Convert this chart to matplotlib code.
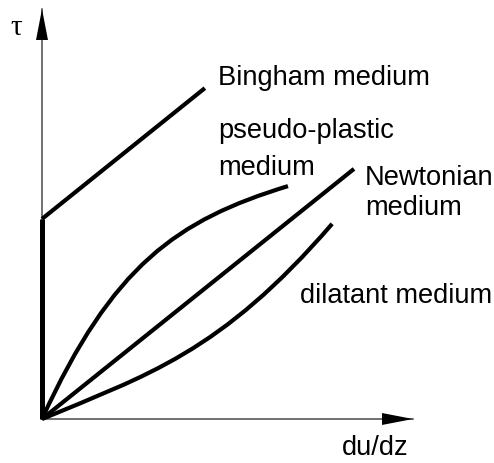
import matplotlib
matplotlib.use("Agg")
import matplotlib.pyplot as plt
from matplotlib.path import Path
from matplotlib.patches import PathPatch

# ---- data (arbitrary units: du/dz on x, tau on y) ----
bingham_x = [0.0, 0.0, 4.39]
bingham_y = [0.0, 4.88, 8.07]

newtonian_x = [0.0, 8.41]
newtonian_y = [0.0, 6.10]

# smooth curves given as cubic Bezier control points (start, c1, c2, end)
pseudo_x = [0.0, 1.90, 3.63, 6.63]
pseudo_y = [0.0, 3.75, 4.85, 5.68]

dilatant_x = [0.0, 2.80, 4.82, 7.82]
dilatant_y = [0.0, 1.06, 1.61, 4.76]

x_max, y_max = 10.0, 10.0

labels = {
    "bingham": "Bingham medium",
    "pseudo1": "pseudo-plastic",
    "pseudo2": "medium",
    "newton1": "Newtonian",
    "newton2": "medium",
    "dilatant": "dilatant medium",
    "xlabel": "du/dz",
    "ylabel": "τ",
}

W, H = 494, 464
fig = plt.figure(figsize=(W / 100, H / 100), dpi=100)
ax = fig.add_axes([42 / W, 44 / H, 371 / W, 410 / H])
ax.set_xlim(0, x_max)
ax.set_ylim(0, y_max)
ax.axis("off")

fs = 19.6
font = "Liberation Sans"

# axes lines with arrow heads
ax.plot([0, x_max], [0, 0], color="#4a4a4a", lw=1.1, clip_on=False, zorder=1)
ax.plot([0, 0], [0, y_max], color="#4a4a4a", lw=1.1, clip_on=False, zorder=1)
head = dict(width=0.01, headwidth=8.6, headlength=22.3, facecolor="black",
            edgecolor="none", lw=0, shrink=0)
ax.annotate("", xy=(x_max, 0), xytext=(x_max - 1.2, 0), arrowprops=head,
            annotation_clip=False)
ax.annotate("", xy=(0, y_max), xytext=(0, y_max - 1.2), arrowprops=head,
            annotation_clip=False)

lw = 3.0
kw = dict(color="black", lw=lw, clip_on=False, solid_capstyle="butt",
          solid_joinstyle="round", zorder=3)
ax.plot(bingham_x[:2], bingham_y[:2], color="black", lw=3.6, clip_on=False,
        solid_capstyle="butt", zorder=3)
ax.plot(bingham_x[1:], bingham_y[1:], **kw)
ax.plot(newtonian_x, newtonian_y, **kw)

codes = [Path.MOVETO, Path.CURVE4, Path.CURVE4, Path.CURVE4]
for cx, cy in [(pseudo_x, pseudo_y), (dilatant_x, dilatant_y)]:
    path = Path(list(zip(cx, cy)), codes)
    ax.add_patch(PathPatch(path, facecolor="none", edgecolor="black", lw=lw,
                           capstyle="butt", clip_on=False, zorder=3))

tkw = dict(fontsize=fs, family=font, va="baseline", ha="left", clip_on=False)
ax.text(4.74, 8.17, labels["bingham"], **tkw)
ax.text(4.74, 6.88, labels["pseudo1"], **tkw)
ax.text(4.74, 5.98, labels["pseudo2"], **tkw)
ax.text(8.71, 5.73, labels["newton1"], **tkw)
ax.text(8.71, 5.00, labels["newton2"], **tkw)
ax.text(6.95, 2.85, labels["dilatant"], **tkw)
ax.text(8.09, -0.86, labels["xlabel"], **tkw)
ax.text(-0.86, 9.39, labels["ylabel"], fontsize=21, family="Liberation Serif",
        va="baseline", ha="left", clip_on=False)

fig.savefig("out.png", dpi=100)
